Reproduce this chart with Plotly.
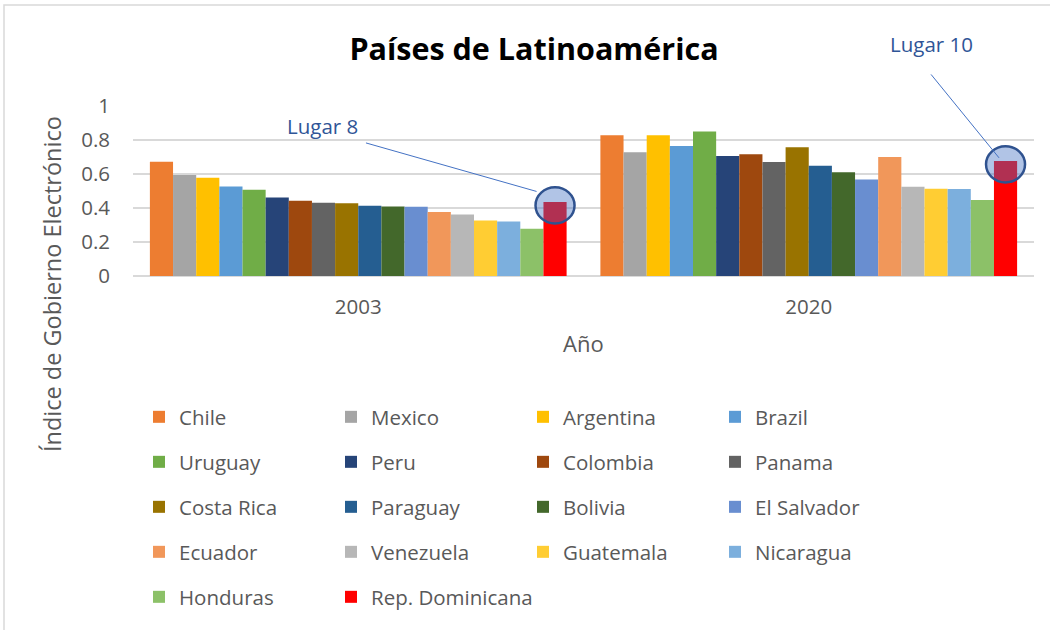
import plotly.graph_objects as go

years = ["2003", "2020"]
countries = ["Chile", "Mexico", "Argentina", "Brazil", "Uruguay", "Peru", "Colombia",
             "Panama", "Costa Rica", "Paraguay", "Bolivia", "El Salvador", "Ecuador",
             "Venezuela", "Guatemala", "Nicaragua", "Honduras", "Rep. Dominicana"]
values_2003 = [0.67, 0.592, 0.576, 0.525, 0.506, 0.461, 0.441, 0.43, 0.426, 0.412,
               0.408, 0.406, 0.375, 0.361, 0.326, 0.320, 0.277, 0.434]
values_2020 = [0.825, 0.726, 0.825, 0.763, 0.848, 0.704, 0.714, 0.669, 0.755, 0.646,
               0.609, 0.566, 0.698, 0.523, 0.512, 0.510, 0.446, 0.675]
colors = ["#ED7D31", "#A5A5A5", "#FFC000", "#5B9BD5", "#70AD47", "#264478", "#9E480E",
          "#636363", "#997300", "#255E91", "#43682B", "#698ED0", "#F1975A", "#B7B7B7",
          "#FFCD33", "#7CAFDD", "#8CC168", "#FF0000"]
rank_labels = ["Lugar 8", "Lugar 10"]

FONT = "Open Sans"
TXT = "#595959"
BARGAP = 0.075
YMAX = 1.003
n = len(countries)

fig = go.Figure()
legend_names = ["legend", "legend2", "legend3", "legend4", "legend5"]
for i, c in enumerate(countries):
    fig.add_trace(go.Bar(
        x=years, y=[values_2003[i], values_2020[i]], name=c,
        marker=dict(color=colors[i], line=dict(width=0)),
        legend=legend_names[i // 4],
        legendwidth=200 if i == n - 1 else None,
    ))

# legends: one row each
row_px = [417, 462, 507, 552, 597]
leg_common = dict(orientation="h", entrywidth=147, entrywidthmode="pixels",
                  font=dict(family=FONT, size=20.5, color=TXT), bgcolor="rgba(0,0,0,0)",
                  xanchor="left", yanchor="middle", x=6 / 901, traceorder="normal")
legend_layout = {}
for k, name in enumerate(legend_names):
    legend_layout[name] = dict(leg_common, y=(276 - row_px[k]) / 171)

# highlight of Rep. Dominicana (last trace)
w = (1 - BARGAP) / n
off = -(1 - BARGAP) / 2 + w * (n - 0.5)
shapes = []
annotations = []
hl_vals = [values_2003[-1], values_2020[-1]]
line_start = [(-0.423, 0.369), (-0.168, 0.536)]
line_end = [(-0.041, 0.082), (-0.0144, 0.038)]
text_pos = [(-0.517, 0.464), (-0.165, 0.706)]
for j, v in enumerate(hl_vals):
    cx = j + off
    cy = v - 0.02
    shapes.append(dict(type="circle", xref="x", yref="y",
                       x0=cx - 0.0433, x1=cx + 0.0433, y0=cy - 0.106, y1=cy + 0.106,
                       fillcolor="rgba(68,114,196,0.42)",
                       line=dict(color="#2F528F", width=2.5), layer="above"))
    annotations.append(dict(x=cx + line_end[j][0], y=cy + line_end[j][1],
                            ax=cx + line_start[j][0], ay=cy + line_start[j][1],
                            xref="x", yref="y", axref="x", ayref="y", text="",
                            showarrow=True, arrowhead=0, arrowwidth=1,
                            arrowcolor="#4472C4", standoff=0, startstandoff=0))
    annotations.append(dict(x=cx + text_pos[j][0], y=(cy + text_pos[j][1]) / YMAX,
                            xref="x", yref="paper", text=rank_labels[j], showarrow=False,
                            font=dict(family=FONT, size=20.5, color="#2F5597"),
                            xanchor="center", yanchor="middle"))

# axis titles
annotations.append(dict(x=(52 - 133) / 901, y=(276 - 284) / 171, xref="paper", yref="paper",
                        text="Índice de Gobierno Electrónico", textangle=-90, showarrow=False,
                        font=dict(family=FONT, size=23.5, color=TXT),
                        xanchor="center", yanchor="middle"))
annotations.append(dict(x=0.5, y=(276 - 343) / 171, xref="paper", yref="paper",
                        text="Año", showarrow=False,
                        font=dict(family=FONT, size=22, color=TXT),
                        xanchor="center", yanchor="middle"))

# chart border
shapes.append(dict(type="rect", xref="paper", yref="paper",
                   x0=(4 - 133) / 901, x1=(1070 - 133) / 901,
                   y0=(276 - 660) / 171, y1=(276 - 5) / 171,
                   line=dict(color="#D9D9D9", width=1.5), fillcolor="rgba(0,0,0,0)",
                   layer="below"))

fig.update_layout(
    width=1050, height=630,
    margin=dict(l=133, r=16, t=105, b=354),
    paper_bgcolor="white", plot_bgcolor="white",
    barmode="group", bargap=BARGAP, bargroupgap=0,
    title=dict(text="<b>Países de Latinoamérica</b>", x=534 / 1050, xref="container",
               xanchor="center", y=1 - 49 / 630, yref="container", yanchor="middle",
               font=dict(family=FONT, size=30.5, color="black")),
    xaxis=dict(type="category", showgrid=False, showline=False, ticks="",
               tickfont=dict(family=FONT, size=20.5, color=TXT), ticklabelstandoff=16),
    yaxis=dict(range=[0, YMAX], dtick=0.2, showgrid=True, gridcolor="#D9D9D9", gridwidth=1.5,
               zeroline=True, zerolinecolor="#D9D9D9", zerolinewidth=1.5, showline=False,
               ticks="", tickfont=dict(family=FONT, size=20.5, color=TXT), ticklabelstandoff=22),
    shapes=shapes, annotations=annotations,
    **legend_layout,
)

fig.write_html("out.html", config={"displayModeBar": False},
               post_script="document.body.style.margin='0px';")
